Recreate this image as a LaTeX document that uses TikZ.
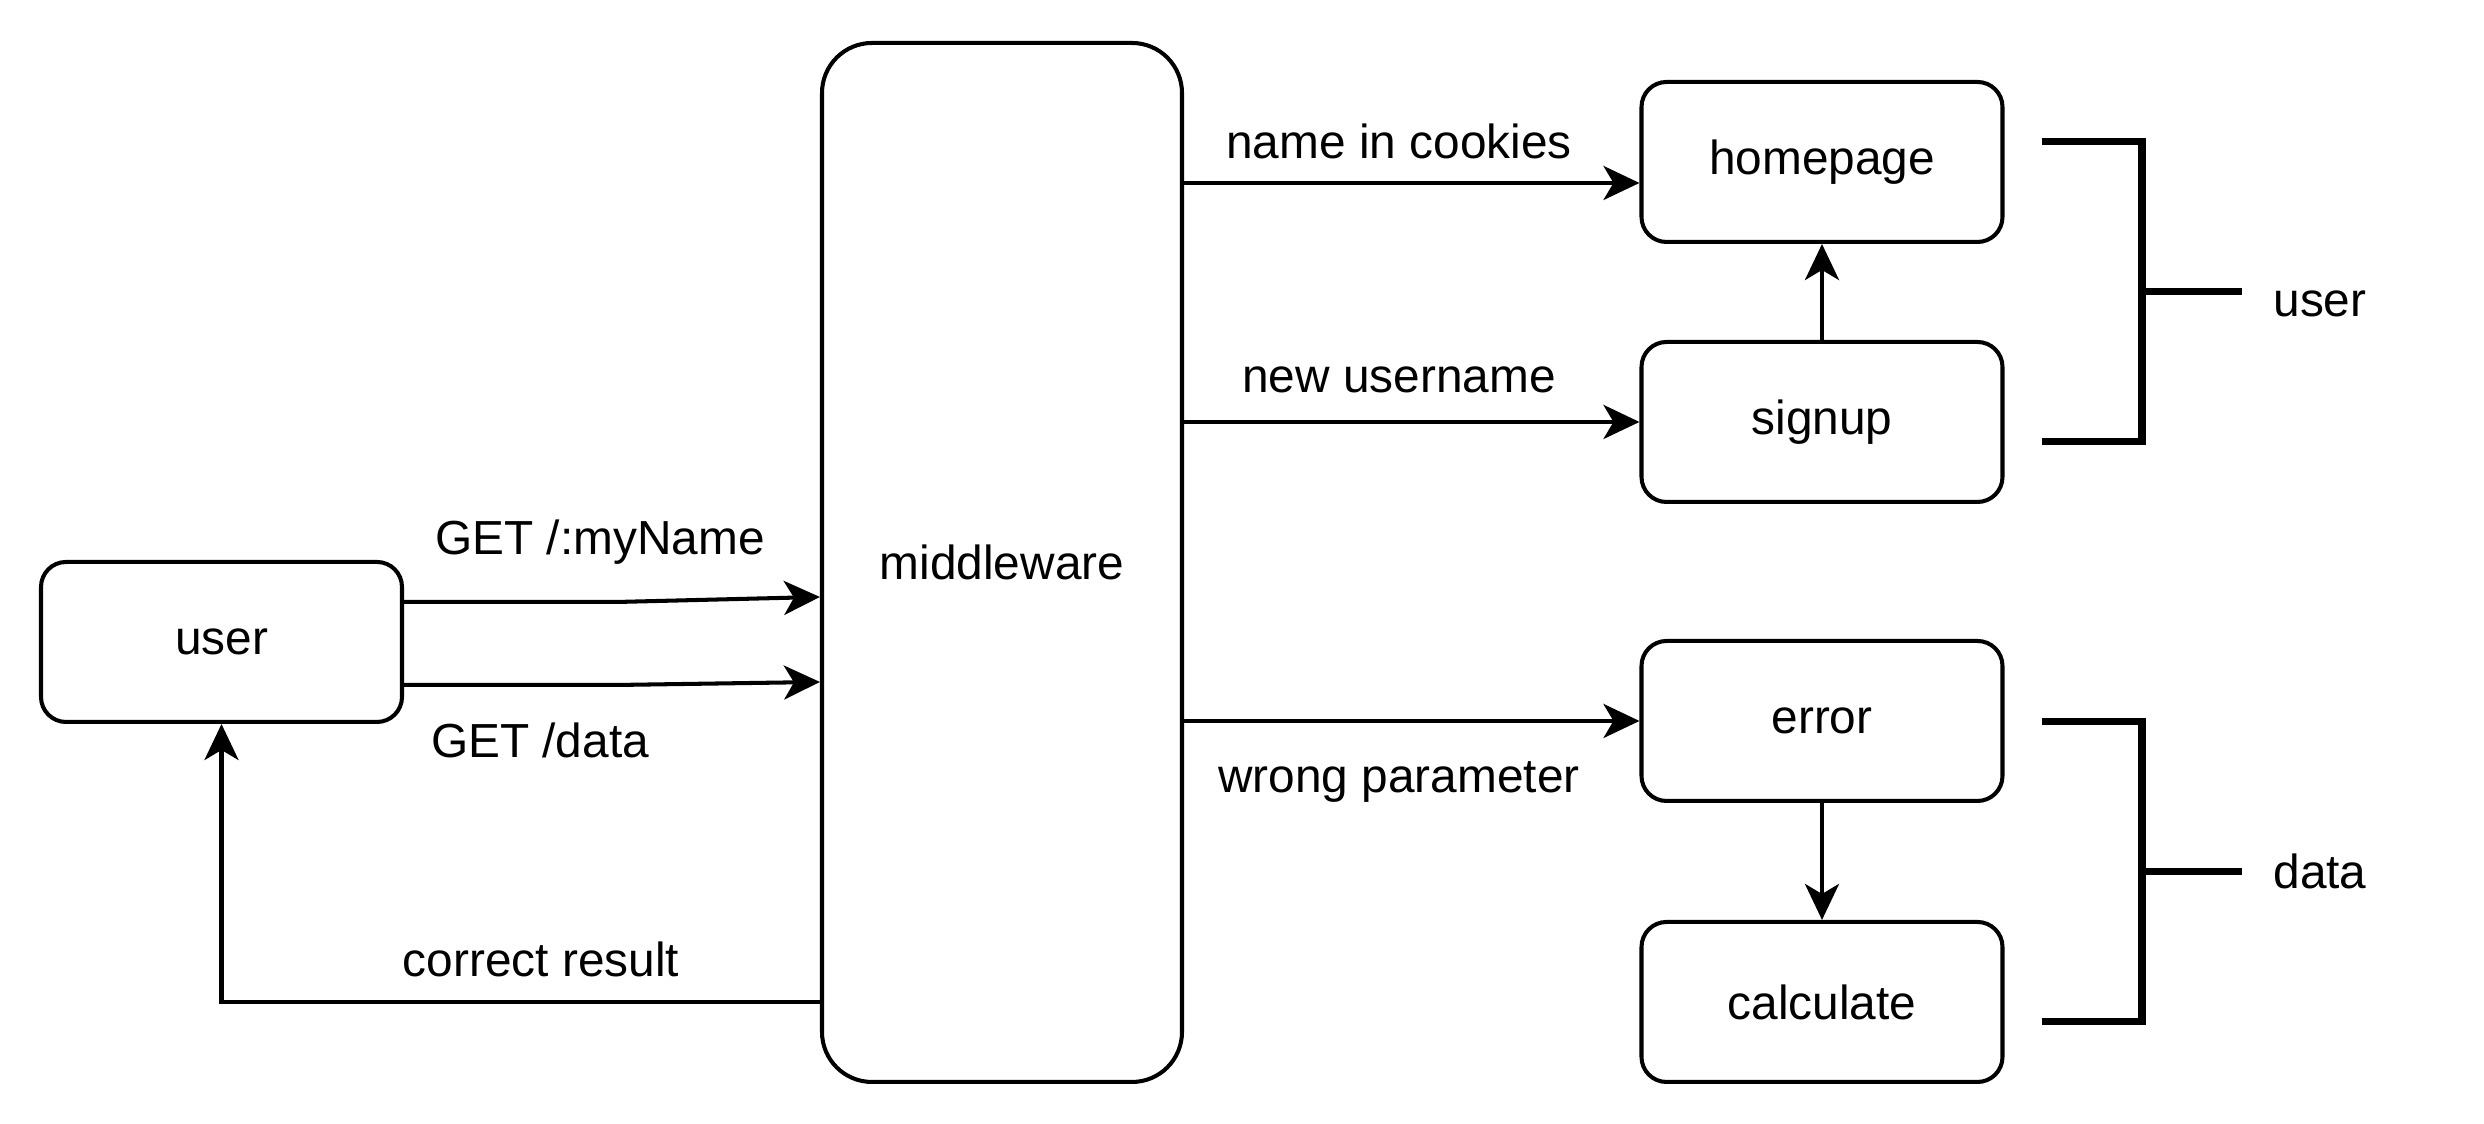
\documentclass[tikz,border=0pt]{standalone}
\usepackage{fontspec}
\setmainfont{Liberation Sans}
\usetikzlibrary{arrows.meta, positioning, calc}

\begin{document}
\begin{tikzpicture}[
  >={Stealth[length=3.6mm, width=3.4mm, inset=1mm]},
  every node/.style={text=black, font=\fontsize{13.6}{16}\selectfont},
  box/.style={draw, line width=1.15pt, rounded corners=2.5mm,
    minimum width=3.61cm, minimum height=1.6cm},
  arr/.style={line width=1.15pt, ->},
  brace/.style={line width=2pt},
]

% Canvas
\useasboundingbox (0,0) rectangle (24.84,11.24);

% Boxes
\node[box] (user) at (2.215,4.82) {user};
\node[box, rounded corners=5mm, minimum width=3.6cm, minimum height=10.39cm]
  (middleware) at (10.02,5.615) {middleware};
\node[box] (homepage)  at (18.22,9.62) {homepage};
\node[box] (signup)    at (18.22,7.02) {signup};
\node[box] (error)     at (18.22,4.03) {error};
\node[box] (calculate) at (18.22,1.22) {calculate};

% Requests from user
\draw[arr] ([yshift=0.40cm]user.east) -- ++(2.13,0) -- ([yshift=-0.345cm]middleware.west);
\node at (6.0,5.82) {GET /:myName};
\draw[arr] ([yshift=-0.43cm]user.east) -- ++(2.13,0) -- ([yshift=-1.195cm]middleware.west);
\node at (5.4,3.84) {GET /data};

% Answer back to user
\draw[arr] ([yshift=-4.395cm]middleware.west) -| (user.south);
\node at (5.41,1.65) {correct result};

% Routes out of middleware
\coordinate (hpin) at ([yshift=-0.21cm]homepage.west);
\draw[arr] (middleware.east |- hpin) -- (hpin);
\node at (13.99,9.83) {name in cookies};

\draw[arr] (middleware.east |- signup.west) -- (signup.west);
\node at (13.99,7.44) {new username};

\draw[arr] (middleware.east |- error.west) -- (error.west);
\node at (13.99,3.42) {wrong parameter};

% Between the pages
\draw[arr] (signup) -- (homepage);
\draw[arr] (error) -- (calculate);

% Group brackets
\draw[brace] (20.42,9.82) -- (21.42,9.82) -- (21.42,6.82) -- (20.42,6.82);
\draw[brace] (21.42,8.32) -- (22.42,8.32);
\node (userlbl) at (23.2,8.20) {user};

\draw[brace] (20.42,4.02) -- (21.42,4.02) -- (21.42,1.02) -- (20.42,1.02);
\draw[brace] (21.42,2.52) -- (22.42,2.52);
\node (datalbl) at (23.2,2.53) {data};

\end{tikzpicture}
\end{document}
